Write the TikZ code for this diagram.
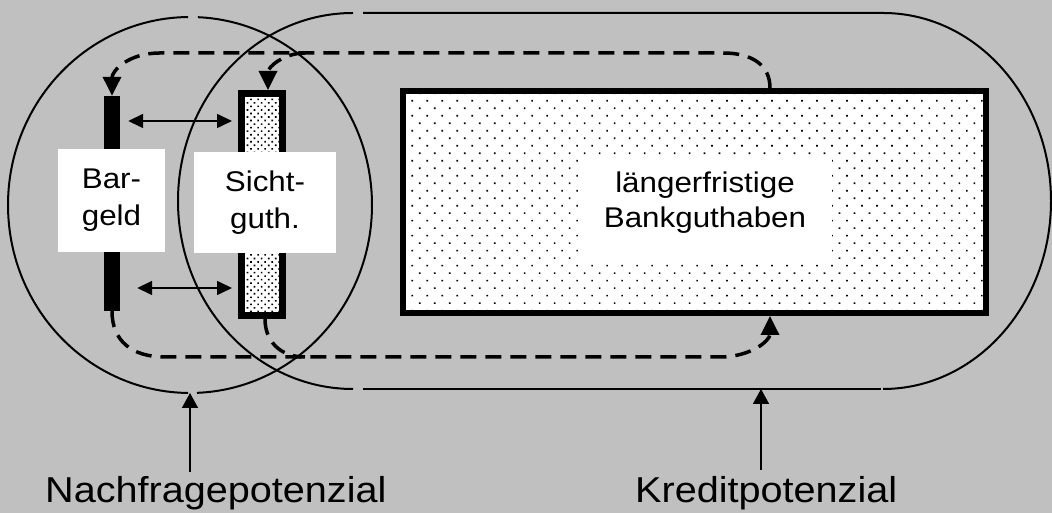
\documentclass[tikz,border=0pt]{standalone}
\usepackage{fontspec}
\setmainfont{Liberation Sans}[FakeStretch=1.1]
\usetikzlibrary{arrows.meta,patterns.meta}
\definecolor{bg}{HTML}{C0C0C0}
\begin{document}
\begin{tikzpicture}[x=1pt,y=1pt,
  outline/.style={line width=2pt},
  flow/.style={line width=3.5pt, dash pattern=on 16pt off 9pt, -{Triangle[length=19pt,width=18pt]}},
  dbl/.style={line width=1.6pt, {Triangle[length=15pt,width=14pt]}-{Triangle[length=15pt,width=14pt]}},
  uparrow/.style={line width=1.6pt, -{Triangle[length=15pt,width=16pt]}},
  labelbox/.style={fill=white, inner sep=0pt, align=center, font=\fontsize{28.5}{37}\selectfont},
  biglabel/.style={inner sep=0pt, anchor=base west, font=\fontsize{36}{40}\selectfont}]
\useasboundingbox (0,0) rectangle (1052,513);
\fill[bg] (0,0) rectangle (1052,513);

% Nachfragepotenzial ellipse
\draw[outline] ([shift={(190,308)}]90.6:182 and 188) arc[start angle=90.6, end angle=269.4, x radius=182, y radius=188];
\draw[outline] ([shift={(190,308)}]272.2:182 and 188) arc[start angle=272.2, end angle=447.5, x radius=182, y radius=188];

% Kreditpotenzial shape
\draw[outline] ([shift={(353,312)}]90:175 and 188) arc[start angle=90, end angle=270, x radius=175, y radius=188];
\draw[outline] (363,500) -- (883,500) arc[start angle=90, end angle=-90, x radius=168, y radius=188];
\draw[outline] (363,124) -- (881,124);

% long-term deposits
\node[draw, line width=6pt, minimum width=583pt, minimum height=222pt, inner sep=0pt,
      preaction={fill=white}, pattern={Dots[distance=10.6pt, radius=1.15pt, angle=45]}] (big) at (694.5,311) {};
\node[fill=white, minimum width=254pt, minimum height=107pt, inner sep=0pt] (bigbox) at (705,304.5) {};
\node[align=center, inner sep=0pt, font=\fontsize{28.5}{35}\selectfont] (bigtext) at (705,310) {längerfristige\\Bankguthaben};

% bars
\node[fill=black, minimum width=16pt, minimum height=215pt, inner sep=0pt] (bar) at (112,309.5) {};
\node[draw, line width=7pt, minimum width=41pt, minimum height=222pt, inner sep=0pt,
      preaction={fill=white}, pattern={Dots[distance=5pt, radius=1.15pt, angle=45]}] (sicht) at (262,308.5) {};

% labels
\node[labelbox, minimum width=107pt, minimum height=103pt] (bargeld) at (111.5,312.5) {Bar-\\geld};
\node[labelbox, minimum width=142pt, minimum height=101pt] (sichtguth) at (265,310.5) {Sicht-\\guth.};

% exchange arrows
\draw[dbl] ([xshift=8pt]bar.east |- 0,392) -- ([xshift=-6pt]sicht.west |- 0,392);
\draw[dbl] ([xshift=17pt]bar.east |- 0,225) -- ([xshift=-6pt]sicht.west |- 0,225);

% dashed flows
\coordinate (br1) at (305,460);
\coordinate (br2) at (305,156);
\draw[flow] ([xshift=75.5pt]big.north) .. controls (770,448) and (752,460) .. (723,460) -- (160,460)
   .. controls (128,460) and (112,442) .. (bar.north);
\draw[flow] (br1) .. controls (284,460) and (268,446) .. ([xshift=6pt]sicht.north);
\draw[flow] (bar.south) .. controls (112,172) and (132,156) .. (165,156) -- (720,156)
   .. controls (750,156) and (770,172) .. ([xshift=75.5pt]big.south);
\draw[line width=3.5pt, dash pattern=on 16pt off 9pt] ([xshift=3pt]sicht.south) .. controls (265,172) and (280,156) .. (br2);

% bottom labels
\node[biglabel] (nlab) at (45,10) {Nachfragepotenzial};
\node[biglabel] (klab) at (635,10) {Kreditpotenzial};
\coordinate (ntop) at (190,120);
\coordinate (ktop) at (761,124);
\draw[uparrow] (ntop |- 0,41) -- (ntop);
\draw[uparrow] (ktop |- 0,43) -- (ktop);
\end{tikzpicture}
\end{document}
